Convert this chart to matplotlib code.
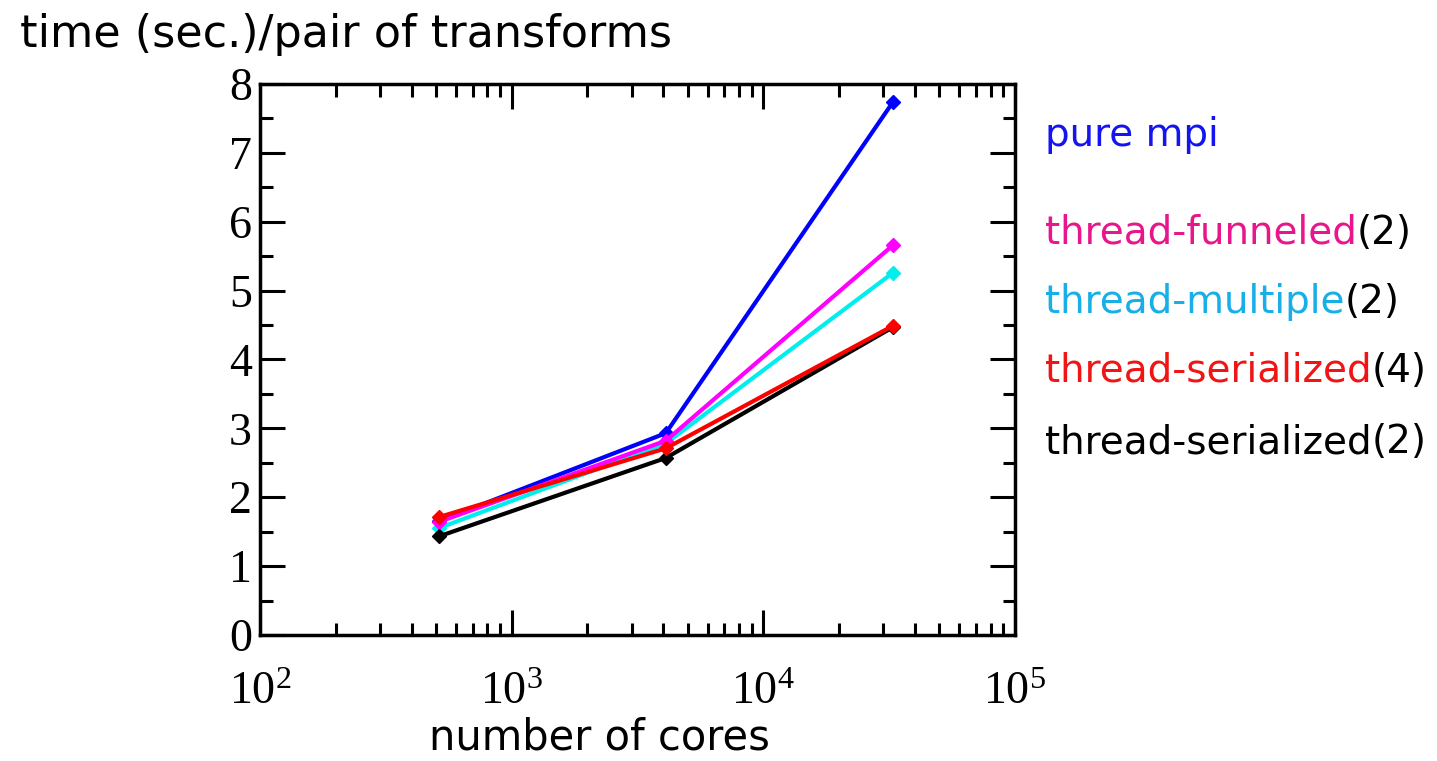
import numpy as np
import matplotlib
matplotlib.use("Agg")
import matplotlib.pyplot as plt
from matplotlib.ticker import MultipleLocator, LogLocator, NullFormatter, FuncFormatter

# timings per pair of transforms
cores = [512, 4096, 32768]
pure_mpi = [1.65, 2.93, 7.74]
funneled_2 = [1.64, 2.82, 5.66]
multiple_2 = [1.55, 2.78, 5.26]
serialized_4 = [1.71, 2.71, 4.49]
serialized_2 = [1.43, 2.57, 4.47]

names = ["pure mpi", "thread-funneled", "thread-multiple", "thread-serialized", "thread-serialized"]
suffix = ["", "(2)", "(2)", "(4)", "(2)"]
text_colors = ["#1414f0", "#e8168c", "#18aee8", "#f01414", "#000000"]
label_y = [7.1, 5.68, 4.68, 3.68, 2.64]

serif = "Liberation Serif"
sans = "DejaVu Sans"
plt.rcParams["mathtext.fontset"] = "custom"
plt.rcParams["mathtext.rm"] = serif

fig = plt.figure(figsize=(14.37, 7.61), dpi=100)
ax = fig.add_axes([0.181, 0.1656, 0.5253, 0.724])

# draw order: blue, cyan, magenta, black, red
series = [pure_mpi, multiple_2, funneled_2, serialized_2, serialized_4]
line_colors = ["#0000ff", "#00eeee", "#ff00ff", "#000000", "#ff0000"]
for vals, c in zip(series, line_colors):
    ax.plot(cores, vals, color=c, lw=3, marker="D", ms=7, mec=c, mfc=c)

ax.set_xscale("log")
ax.set_xlim(1e2, 1e5)
ax.set_ylim(0, 8)
ax.yaxis.set_major_locator(MultipleLocator(1))
ax.yaxis.set_minor_locator(MultipleLocator(0.5))
ax.xaxis.set_major_locator(LogLocator(base=10))
ax.xaxis.set_minor_locator(LogLocator(base=10, subs=np.arange(2, 10)))
ax.xaxis.set_minor_formatter(NullFormatter())
ax.xaxis.set_major_formatter(FuncFormatter(
    lambda v, p: r"$\mathregular{10^{%d}}$" % round(np.log10(v))))

ax.tick_params(which="both", direction="in", top=True, right=True, width=2.2)
ax.tick_params(which="major", length=18, labelsize=33)
ax.tick_params(axis="y", which="major", pad=6)
ax.tick_params(axis="x", which="major", pad=26)
ax.tick_params(which="minor", length=9)
for lab in ax.get_xticklabels() + ax.get_yticklabels():
    lab.set_fontfamily(serif)
for s in ax.spines.values():
    s.set_linewidth(2.5)

ax.set_xlabel("number of cores", fontsize=30, family=sans, labelpad=2, x=0.45)
fig.text(0.014, 0.955, "time (sec.)/pair of transforms", fontsize=32, family=sans,
         va="center", ha="left")

for name, suf, c, yv in zip(names, suffix, text_colors, label_y):
    t = ax.text(1.04, yv / 8, name, transform=ax.transAxes, fontsize=28,
                family=sans, color=c, va="baseline", ha="left")
    if suf:
        ax.annotate(suf, xy=(1, 0), xycoords=t, fontsize=28, family=sans,
                    color="black", va="bottom", ha="left")

fig.savefig("out.png", dpi=100)
